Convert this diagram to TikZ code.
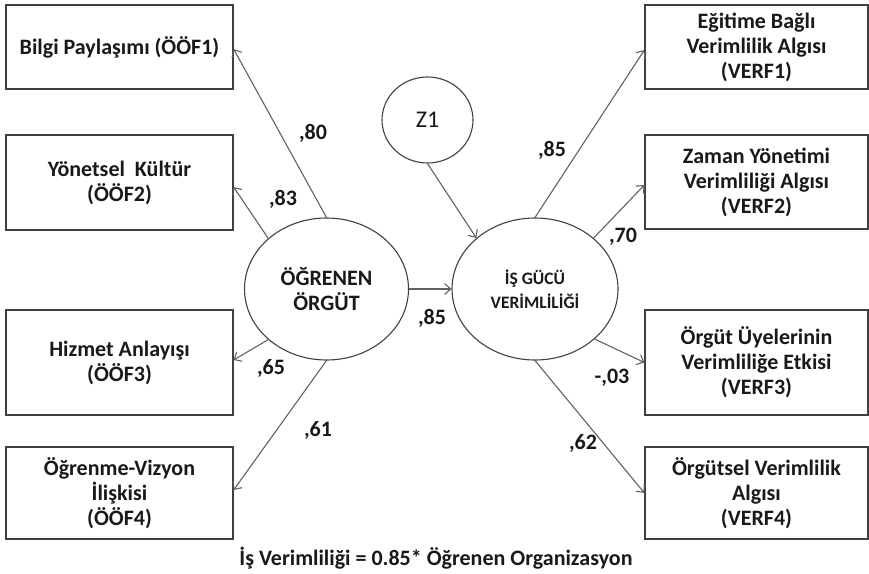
\documentclass[tikz,border=0pt]{standalone}
\usepackage{fontspec}
\setmainfont{Carlito}
\usetikzlibrary{shapes.geometric,arrows.meta}
\begin{document}
\begin{tikzpicture}[x=1pt,y=-1pt,
  txt/.style={text=black!90,font=\fontsize{22}{25}\selectfont\bfseries},
  box/.style={txt,draw=black!75,line width=1.2pt,rectangle,align=center,inner sep=2pt},
  lbox/.style={box,minimum width=227pt},
  rbox/.style={box,minimum width=223pt},
  latent/.style={txt,draw=black!75,line width=1.1pt,ellipse,align=center,inner sep=0pt},
  path/.style={draw=black!62,line width=1.1pt,-{Straight Barb[length=6pt,width=11pt]}},
  coef/.style={txt,inner sep=1pt}]
\useasboundingbox (0,0) rectangle (869,573);

% indicator boxes of the learning organisation
\node[lbox,minimum height=84pt] (b1) at (119.5,47) {Bilgi Paylaşımı (ÖÖF1)};
\node[lbox,minimum height=95pt] (b2) at (119.5,182.5) {Yönetsel~ Kültür\\(ÖÖF2)};
\node[lbox,minimum height=105pt] (b3) at (119.5,362.5) {Hizmet Anlayışı\\(ÖÖF3)};
\node[lbox,minimum height=92pt] (b4) at (119.5,493) {Öğrenme-Vizyon\\İlişkisi\\(ÖÖF4)};

% indicator boxes of workforce productivity
\node[rbox,minimum height=84pt] (v1) at (756.5,47) {Eğitime Bağlı\\Verimlilik Algısı\\(VERF1)};
\node[rbox,minimum height=94pt] (v2) at (756.5,182) {Zaman Yönetimi\\Verimliliği Algısı\\(VERF2)};
\node[rbox,minimum height=105pt] (v3) at (756.5,362.5) {Örgüt Üyelerinin\\Verimliliğe Etkisi\\(VERF3)};
\node[rbox,minimum height=92pt] (v4) at (756.5,493) {Örgütsel Verimlilik\\Algısı\\(VERF4)};

% latent variables and disturbance
\node[latent,minimum width=164pt,minimum height=142pt] (og) at (326.5,289) {ÖĞRENEN\\ÖRGÜT};
\node[latent,minimum width=166pt,minimum height=142pt,font=\fontsize{17.5}{24}\selectfont\bfseries] (ig) at (535,289) {İŞ GÜCÜ\\VERİMLİLİĞİ};
\node[latent,minimum width=91pt,minimum height=86pt,font=\fontsize{24}{26}\selectfont] (z) at (427.5,120) {Z1};

% paths
\draw[path] (og.north) -- ([yshift=-2pt]b1.east);
\draw[path] (og.139) -- ([yshift=-4.5pt]b2.east);
\draw[path] (og.221) -- ([yshift=2.5pt]b3.east);
\draw[path] (og.south) -- ([yshift=3pt]b4.east);
\draw[path] (og.east) -- (ig.west);
\draw[path] (z.south) -- (ig.139);
\draw[path] (ig.north) -- ([yshift=-3pt]v1.west);
\draw[path] (ig.41) -- ([yshift=-3pt]v2.west);
\draw[path] (ig.320) -- (v3.west);
\draw[path] (ig.south) -- (v4.west);

% standardised coefficients
\node[coef] (c1) at (313,133) {,80};
\node[coef] (c2) at (283,199) {,83};
\node[coef] (c3) at (271,368) {,65};
\node[coef] (c4) at (318,430) {,61};
\node[coef] (c5) at (432,318) {,85};
\node[coef] (c6) at (552,150) {,85};
\node[coef] (c7) at (623,237) {,70};
\node[coef] (c8) at (612,378) {-,03};
\node[coef] (c9) at (583,443) {,62};

% structural equation
\node[txt] (eq) at (436,558) {İş Verimliliği = 0.85* Öğrenen Organizasyon};
\end{tikzpicture}
\end{document}
